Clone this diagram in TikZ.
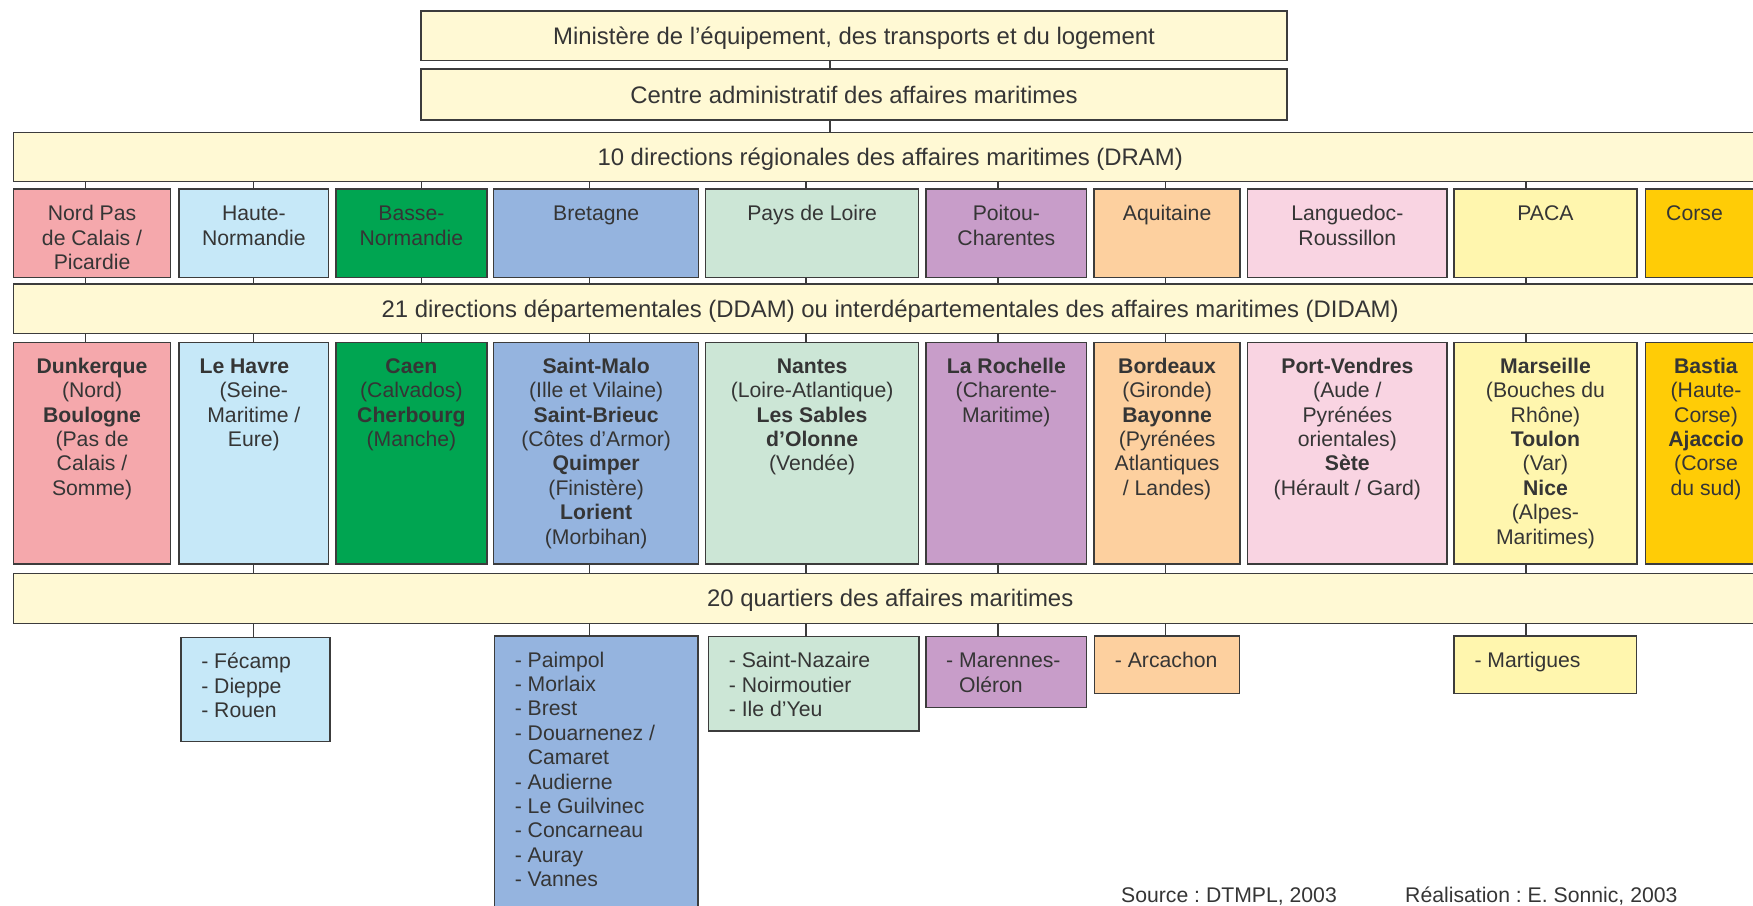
\documentclass[tikz,border=0pt]{standalone}
\usepackage{fontspec}
\setmainfont{Liberation Sans}
\frenchspacing
\definecolor{edgec}{HTML}{3C3C3C}
\definecolor{textc}{HTML}{353535}
\definecolor{barc}{HTML}{FFF9D4}
\definecolor{cNord}{HTML}{F5A8AC}
\definecolor{cHaute}{HTML}{C6E8F8}
\definecolor{cBasse}{HTML}{00A551}
\definecolor{cBret}{HTML}{95B4DF}
\definecolor{cPays}{HTML}{CCE6D6}
\definecolor{cPoit}{HTML}{C89DC9}
\definecolor{cAqui}{HTML}{FDD09F}
\definecolor{cLang}{HTML}{F9D4E2}
\definecolor{cPaca}{HTML}{FFF6AE}
\definecolor{cCors}{HTML}{FFCC06}
\newcommand\bodyfont{\fontsize{21.2pt}{24.4pt}\selectfont}
\newcommand\barfont{\fontsize{23.9pt}{28pt}\selectfont}
\newcommand\CBox[4]{\parbox[t][#2pt][t]{#1pt}{\frenchspacing\centering\rule{0pt}{#3pt}#4\par}}
\newcommand\LBox[4]{\parbox[t][#2pt][t]{#1pt}{\frenchspacing\raggedright\leftskip=#3pt\relax\rule{0pt}{31pt}#4\par}}
\newcommand\ind{\hphantom{- }}
\tikzset{
  cell/.style={draw=edgec, line width=1.5pt, inner sep=0pt, outer sep=0pt, anchor=north west, text=textc, font=\bodyfont},
  barcell/.style={cell, fill=barc, font=\barfont},
  link/.style={draw=edgec, line width=1.3pt},
  foot/.style={anchor=base west, inner sep=0pt, text=textc, font=\bodyfont\frenchspacing}
}
\begin{document}
\begin{tikzpicture}[x=1pt,y=-1pt]
\clip (0,0) rectangle (1753,905);
% column coordinates for connectors
\coordinate (xTop) at (830,0);
\coordinate (xN) at (85.7,0);
\coordinate (xH) at (253.7,0);
\coordinate (xB) at (421.7,0);
\coordinate (xR) at (589.7,0);
\coordinate (xP) at (806,0);
\coordinate (xC) at (998,0);
\coordinate (xA) at (1165.6,0);
\coordinate (xM) at (1526,0);
% bars
\node[barcell] (mini) at (421,11) {\CBox{866}{49.7}{33.4}{Ministère de l’équipement, des transports et du logement}};
\node[barcell] (centre) at (421,69) {\CBox{866}{51}{34}{Centre administratif des affaires maritimes}};
\node[barcell] (dram) at (13.4,132.3) {\CBox{1753.6}{49.4}{33.3}{10 directions régionales des affaires maritimes (DRAM)}};
\node[barcell] (ddam) at (13.4,284) {\CBox{1753.6}{49.3}{33.2}{21 directions départementales (DDAM) ou interdépartementales des affaires maritimes (DIDAM)}};
\node[barcell] (quart) at (13.4,573.3) {\CBox{1753.6}{50}{33.5}{20 quartiers des affaires maritimes}};
% regions
\node[cell, fill=cNord] (rNord) at (13.4,189) {\CBox{157.3}{88.7}{31.7}{Nord Pas\\de Calais /\\Picardie}};
\node[cell, fill=cHaute] (rHaute) at (179,189) {\CBox{149.7}{88.7}{31.7}{Haute-\\Normandie}};
\node[cell, fill=cBasse] (rBasse) at (336,189) {\CBox{150.8}{88.7}{31.7}{Basse-\\Normandie}};
\node[cell, fill=cBret] (rBret) at (493.7,189) {\CBox{204.9}{88.7}{31.7}{Bretagne}};
\node[cell, fill=cPays] (rPays) at (705.5,189) {\CBox{213.2}{88.7}{31.7}{Pays de Loire}};
\node[cell, fill=cPoit] (rPoit) at (926,189) {\CBox{160.7}{88.7}{31.7}{Poitou-\\Charentes}};
\node[cell, fill=cAqui] (rAqui) at (1094,189) {\CBox{146.2}{88.7}{31.7}{Aquitaine}};
\node[cell, fill=cLang] (rLang) at (1247.7,189) {\CBox{199.3}{88.7}{31.7}{Languedoc-\\Roussillon}};
\node[cell, fill=cPaca] (rPaca) at (1453.9,189) {\CBox{183.1}{88.7}{31.7}{PACA}};
\node[cell, fill=cCors] (rCors) at (1645.6,189) {\CBox{120.8}{88.7}{31.7}{Corse\hspace*{23pt}}};
% departements
\node[cell, fill=cNord] (dNord) at (13.4,342.3) {\CBox{157.3}{221.7}{31}{\textbf{Dunkerque}\\(Nord)\\\textbf{Boulogne}\\(Pas de\\Calais /\\Somme)}};
\node[cell, fill=cHaute] (dHaute) at (179,342.3) {\CBox{149.7}{221.7}{31}{\textbf{Le Havre}\hspace*{19pt}\mbox{}\\(Seine-\\Maritime /\\Eure)}};
\node[cell, fill=cBasse] (dBasse) at (336,342.3) {\CBox{150.8}{221.7}{31}{\textbf{Caen}\\(Calvados)\\\textbf{Cherbourg}\\(Manche)}};
\node[cell, fill=cBret] (dBret) at (493.7,342.3) {\CBox{204.9}{221.7}{31}{\textbf{Saint-Malo}\\(Ille et Vilaine)\\\textbf{Saint-Brieuc}\\(Côtes d’Armor)\\\textbf{Quimper}\\(Finistère)\\\textbf{Lorient}\\(Morbihan)}};
\node[cell, fill=cPays] (dPays) at (705.5,342.3) {\CBox{213.2}{221.7}{31}{\textbf{Nantes}\\(Loire-Atlantique)\\\textbf{Les Sables}\\\textbf{d’Olonne}\\(Vendée)}};
\node[cell, fill=cPoit] (dPoit) at (926,342.3) {\CBox{160.7}{221.7}{31}{\textbf{La Rochelle}\\(Charente-\\Maritime)}};
\node[cell, fill=cAqui] (dAqui) at (1094,342.3) {\CBox{146.2}{221.7}{31}{\textbf{Bordeaux}\\(Gironde)\\\textbf{Bayonne}\\(Pyrénées\\Atlantiques\\/ Landes)}};
\node[cell, fill=cLang] (dLang) at (1247.7,342.3) {\CBox{199.3}{221.7}{31}{\textbf{Port-Vendres}\\(Aude /\\Pyrénées\\orientales)\\\textbf{Sète}\\(Hérault / Gard)}};
\node[cell, fill=cPaca] (dPaca) at (1453.9,342.3) {\CBox{183.1}{221.7}{31}{\textbf{Marseille}\\(Bouches du\\Rhône)\\\textbf{Toulon}\\(Var)\\\textbf{Nice}\\(Alpes-\\Maritimes)}};
\node[cell, fill=cCors] (dCors) at (1645.6,342.3) {\CBox{120.8}{221.7}{31}{\textbf{Bastia}\\(Haute-\\Corse)\\\textbf{Ajaccio}\\(Corse\\du sud)}};
% quartiers
\node[cell, fill=cHaute] (qHaute) at (180.8,637.7) {\LBox{149.2}{104}{20.5}{- Fécamp\\- Dieppe\\- Rouen}};
\node[cell, fill=cBret] (qBret) at (494.3,636) {\LBox{203.7}{290}{20.5}{- Paimpol\\- Morlaix\\- Brest\\- Douarnenez /\\\ind Camaret\\- Audierne\\- Le Guilvinec\\- Concarneau\\- Auray\\- Vannes}};
\node[cell, fill=cPays] (qPays) at (708.4,636.7) {\LBox{210.6}{94.3}{20.5}{- Saint-Nazaire\\- Noirmoutier\\- Ile d’Yeu}};
\node[cell, fill=cPoit] (qPoit) at (926.2,636.7) {\LBox{160.4}{70.6}{20}{- Marennes-\\\ind Oléron}};
\node[cell, fill=cAqui] (qAqui) at (1094.4,636) {\LBox{145.3}{57.3}{20.5}{- Arcachon}};
\node[cell, fill=cPaca] (qPaca) at (1454,636) {\LBox{182.7}{57.3}{20.5}{- Martigues}};
% footer
\node[foot] (src) at (1121,902) {Source : DTMPL, 2003};
\node[foot] (real) at (1405,902) {Réalisation : E. Sonnic, 2003};
% connectors
\draw[link] (mini.south -| xTop) -- (centre.north -| xTop);
\draw[link] (centre.south -| xTop) -- (dram.north -| xTop);
\foreach \r/\d/\x in {rNord/dNord/xN, rHaute/dHaute/xH, rBasse/dBasse/xB, rBret/dBret/xR, rPays/dPays/xP, rPoit/dPoit/xC, rAqui/dAqui/xA, rPaca/dPaca/xM}{
  \draw[link] (dram.south -| \x) -- (\r.north -| \x);
  \draw[link] (\r.south -| \x) -- (ddam.north -| \x);
  \draw[link] (ddam.south -| \x) -- (\d.north -| \x);
}
\foreach \d/\q/\x in {dHaute/qHaute/xH, dBret/qBret/xR, dPays/qPays/xP, dPoit/qPoit/xC, dAqui/qAqui/xA, dPaca/qPaca/xM}{
  \draw[link] (\d.south -| \x) -- (quart.north -| \x);
  \draw[link] (quart.south -| \x) -- (\q.north -| \x);
}
\end{tikzpicture}
\end{document}
